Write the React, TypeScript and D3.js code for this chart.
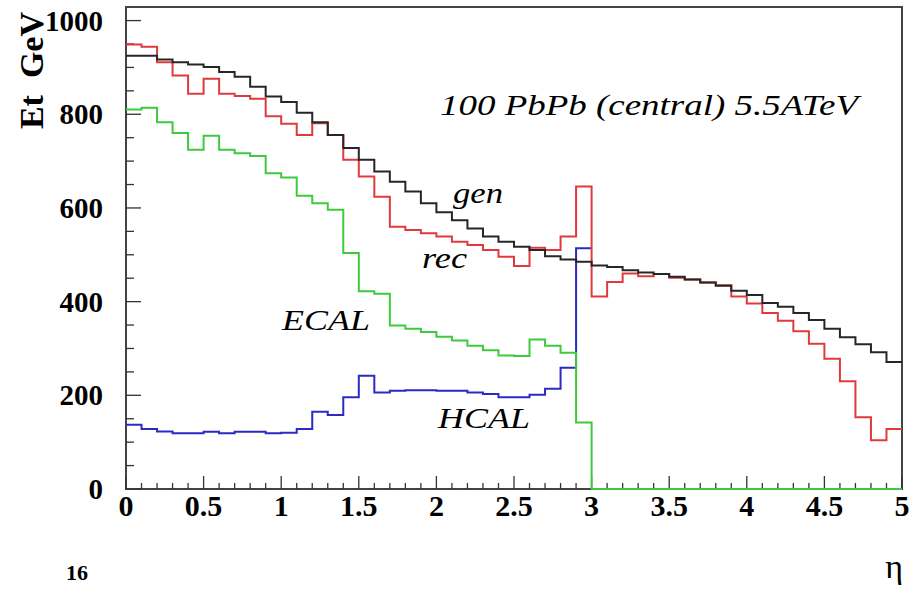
import React, { useRef, useEffect } from 'react';
import * as d3 from 'd3';

// eta bins, 0.1 wide, from 0 to 5
const etaBins = d3.range(50).map(i => i / 10);
const binWidth = 0.1;

const genEt = [925, 925, 917, 911, 906, 901, 890, 880, 859, 838,
  826, 803, 783, 756, 728, 703, 678, 656, 635, 610,
  591, 574, 556, 539, 528, 517, 510, 497, 490, 485,
  477, 474, 467, 462, 459, 453, 447, 441, 434, 423,
  414, 397, 389, 376, 361, 342, 324, 309, 292, 271];

const recEt = [949, 944, 911, 883, 844, 876, 844, 839, 833, 796,
  780, 756, 781, 756, 703, 667, 624, 560, 553, 546,
  539, 528, 521, 510, 496, 476, 515, 510, 539, 646,
  411, 442, 460, 454, 459, 451, 447, 441, 435, 411,
  396, 376, 359, 337, 310, 278, 230, 153, 104, 128];

const ecalEt = [810, 814, 783, 760, 724, 754, 724, 717, 711, 674,
  665, 626, 610, 596, 504, 422, 417, 349, 342, 335,
  325, 317, 306, 296, 285, 284, 319, 306, 291, 142,
  0, 0, 0, 0, 0, 0, 0, 0, 0, 0,
  0, 0, 0, 0, 0, 0, 0, 0, 0, 0];

// HCAL histogram only covers 0 < eta < 3
const hcalEt = [137, 128, 123, 119, 119, 122, 119, 122, 122, 119,
  120, 128, 165, 158, 196, 242, 206, 210, 211, 211,
  210, 210, 206, 203, 196, 196, 201, 214, 259, 514];

const xTicks = [0, 0.5, 1, 1.5, 2, 2.5, 3, 3.5, 4, 4.5, 5];
const yTicks = [0, 200, 400, 600, 800, 1000];

const series = [
  { name: 'HCAL', values: hcalEt, color: '#2b2bc4' },
  { name: 'ECAL', values: ecalEt, color: '#3dcb3d' },
  { name: 'rec', values: recEt, color: '#e03a3e' },
  { name: 'gen', values: genEt, color: '#262626' },
];

const W = 909, H = 589;
const left = 126, right = 902, top = 7, bottom = 489;
const serif = '"Liberation Serif", "Times New Roman", serif';

const App = () => {
  const svgRef = useRef<SVGSVGElement>(null);

  useEffect(() => {
    const svg = d3.select(svgRef.current);
    svg.selectAll('*').remove();

    const x = d3.scaleLinear().domain([0, 5]).range([left, right]);
    const y = d3.scaleLinear().domain([0, 1029]).range([bottom, top]);

    // frame
    svg.append('rect')
      .attr('x', left).attr('y', top)
      .attr('width', right - left).attr('height', bottom - top)
      .attr('fill', 'none')
      .attr('stroke', '#444')
      .attr('stroke-width', 2);

    // x axis ticks (inward)
    const xMinor = d3.range(0, 5.001, 0.1);
    svg.append('g').selectAll('line')
      .data(xMinor)
      .join('line')
      .attr('x1', d => x(d)).attr('x2', d => x(d))
      .attr('y1', bottom)
      .attr('y2', d => bottom - (Math.abs(d * 2 - Math.round(d * 2)) < 1e-6 ? 13 : 6))
      .attr('stroke', '#333')
      .attr('stroke-width', 1.3);

    // y axis ticks (inward)
    const yMinor = d3.range(0, 1001, 50);
    svg.append('g').selectAll('line')
      .data(yMinor)
      .join('line')
      .attr('x1', left)
      .attr('x2', d => left + (d % 200 === 0 ? 15 : 8))
      .attr('y1', d => y(d)).attr('y2', d => y(d))
      .attr('stroke', '#333')
      .attr('stroke-width', 1.3);

    // histograms as step lines, drawn over the frame
    const line = d3.line<[number, number]>()
      .x(d => x(d[0]))
      .y(d => y(d[1]))
      .curve(d3.curveStepAfter);

    series.forEach(s => {
      const pts: [number, number][] = s.values.map((v, i) => [etaBins[i], v]);
      const last = s.values.length - 1;
      pts.push([etaBins[last] + binWidth, s.values[last]]);
      svg.append('path')
        .attr('d', line(pts))
        .attr('fill', 'none')
        .attr('stroke', s.color)
        .attr('stroke-width', 2);
    });

    svg.append('g').selectAll('text')
      .data(xTicks)
      .join('text')
      .attr('x', d => x(d))
      .attr('y', 516)
      .attr('text-anchor', 'middle')
      .attr('font-family', serif)
      .attr('font-weight', 'bold')
      .attr('font-size', 30)
      .text(d => String(d));

    svg.append('g').selectAll('text')
      .data(yTicks)
      .join('text')
      .attr('x', 103)
      .attr('y', d => y(d) + 10)
      .attr('text-anchor', 'end')
      .attr('font-family', serif)
      .attr('font-weight', 'bold')
      .attr('font-size', 29)
      .text(d => String(d));

    // axis titles
    svg.append('text')
      .attr('transform', 'translate(43,12) rotate(-90)')
      .attr('text-anchor', 'end')
      .attr('font-family', serif)
      .attr('font-weight', 'bold')
      .attr('font-size', 34)
      .attr('xml:space', 'preserve')
      .text('Et  GeV');

    svg.append('text')
      .attr('x', 903).attr('y', 578)
      .attr('text-anchor', 'end')
      .attr('font-family', serif)
      .attr('font-size', 34)
      .text('η');

    // annotations
    const notes = [
      { t: '100 PbPb (central) 5.5ATeV', x: 440, y: 115, w: 418 },
      { t: 'gen', x: 453, y: 203, w: 50 },
      { t: 'rec', x: 422, y: 268, w: 45 },
      { t: 'ECAL', x: 282, y: 330, w: 88 },
      { t: 'HCAL', x: 438, y: 428, w: 92 },
    ];
    svg.append('g').selectAll('text')
      .data(notes)
      .join('text')
      .attr('x', d => d.x).attr('y', d => d.y)
      .attr('font-family', serif)
      .attr('font-style', 'italic')
      .attr('font-size', 30)
      .attr('textLength', d => d.w)
      .attr('lengthAdjust', 'spacingAndGlyphs')
      .text(d => d.t);

    // page number at the bottom edge
    svg.append('text')
      .attr('x', 66).attr('y', 580)
      .attr('font-family', serif)
      .attr('font-weight', 'bold')
      .attr('font-size', 22)
      .text('16');
  }, []);

  return (
    <svg ref={svgRef} width={W} height={H}
      style={{ position: 'absolute', left: 0, top: 0, background: '#fff' }} />
  );
};

export default App;
